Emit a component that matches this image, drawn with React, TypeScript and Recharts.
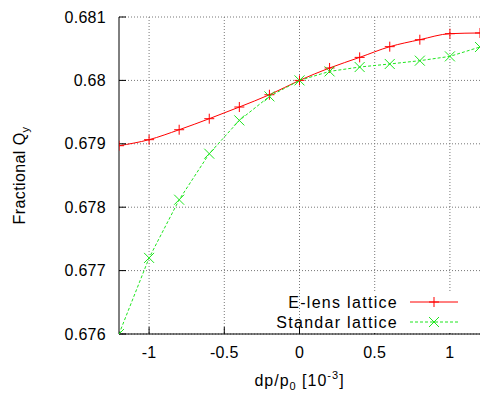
import React from "react";
import { CartesianGrid, Legend, Line, LineChart, XAxis, YAxis } from "recharts";

const dpValues = [-1.2, -1.0, -0.8, -0.6, -0.4, -0.2, 0, 0.2, 0.4, 0.6, 0.8, 1.0, 1.2];
const elensQy = [0.67897, 0.679065, 0.679222, 0.679396, 0.67958, 0.679774, 0.68, 0.680196, 0.680363, 0.680532, 0.680642, 0.680737, 0.680748];
const standarQy = [0.676, 0.6772, 0.678118, 0.678844, 0.679369, 0.679748, 0.68, 0.680142, 0.680211, 0.680259, 0.680311, 0.680379, 0.680527];
const xDomain = [-1.2, 1.2];
const yDomain = [0.676, 0.681];
const xTicks = [-1, -0.5, 0, 0.5, 1];
const yTicks = [0.676, 0.677, 0.678, 0.679, 0.68, 0.681];

const data = dpValues.map((dp, i) => ({ dp, elens: elensQy[i], standar: standarQy[i] }));

const FONT = "'Liberation Sans', Arial, Helvetica, sans-serif";
const RED = "#ff0000";
const GREEN = "#1ee61e";

const PlusDot = (p: any) => {
  if (p.cx == null || p.cy == null) return <g key={p.key} />;
  return <path key={p.key} d={`M${p.cx - 5},${p.cy}h10M${p.cx},${p.cy - 5}v10`} stroke={RED} strokeWidth={1} fill="none" />;
};
const CrossDot = (p: any) => {
  if (p.cx == null || p.cy == null) return <g key={p.key} />;
  return <path key={p.key} d={`M${p.cx - 5},${p.cy - 5}l10,10M${p.cx - 5},${p.cy + 5}l10,-10`} stroke={GREEN} strokeWidth={1} fill="none" />;
};

// grid at the tick values, mapped through the plot area
const gridX = ({ offset }: any) =>
  xTicks.map((t) => offset.left + ((t - xDomain[0]) / (xDomain[1] - xDomain[0])) * offset.width);
const gridY = ({ offset }: any) =>
  yTicks.map((t) => offset.top + ((yDomain[1] - t) / (yDomain[1] - yDomain[0])) * offset.height);

// legend box sits at left 200, top 290 in chart pixels; white key area hides the grid behind it
const LegendBox = () => (
  <svg width={270} height={44} style={{ display: "block", fontFamily: FONT }}>
    <rect x={102} y={3} width={177} height={40} fill="#fff" />
    <text x={198} y={18} textAnchor="end" fontSize={16} letterSpacing={1.3} fill="#000">E-lens lattice</text>
    <line x1={210} x2={258} y1={12} y2={12} stroke={RED} />
    <path d="M229,12h10M234,7v10" stroke={RED} />
    <text x={198} y={38} textAnchor="end" fontSize={16} letterSpacing={1.3} fill="#000">Standar lattice</text>
    <line x1={210} x2={258} y1={32} y2={32} stroke={GREEN} strokeDasharray="3 2" />
    <path d="M229,27l10,10M229,37l10,-10" stroke={GREEN} />
  </svg>
);

const YLabel = (props: any) => {
  const vb = props.viewBox;
  const cx = 25;
  const cy = vb.y + vb.height / 2;
  return (
    <text transform={`translate(${cx},${cy}) rotate(-90)`} textAnchor="middle" fontSize={16} fontFamily={FONT} letterSpacing={0.4} fill="#000">
      Fractional Q<tspan fontSize={11} dy={4}>y</tspan>
    </text>
  );
};

const XLabel = (props: any) => {
  const vb = props.viewBox;
  const cx = vb.x + vb.width / 2;
  return (
    <text x={cx} y={386} textAnchor="middle" fontSize={16} fontFamily={FONT} letterSpacing={1} fill="#000">
      dp/p<tspan fontSize={11} dy={4}>0</tspan>
      <tspan dy={-4}> [10</tspan>
      <tspan fontSize={11} dy={-7}>-3</tspan>
      <tspan dy={7}>]</tspan>
    </text>
  );
};

const tickStyle = { fontSize: 16, fontFamily: FONT, fill: "#000", letterSpacing: 0.3 };
const tickLineStyle = { stroke: "#000", strokeWidth: 1 };

export default function App() {
  return (
    <div style={{ position: "absolute", left: 0, top: 0, width: 486, height: 393, background: "#fff" }}>
      <LineChart width={486} height={393} data={data} margin={{ top: 17, right: 6, bottom: 0, left: 0 }}>
        <CartesianGrid
          xAxisId="b"
          yAxisId="l"
          stroke="#777"
          strokeDasharray="1 2"
          verticalCoordinatesGenerator={gridX}
          horizontalCoordinatesGenerator={gridY}
        />
        <XAxis
          xAxisId="b"
          dataKey="dp"
          type="number"
          domain={xDomain}
          ticks={xTicks}
          height={59}
          tick={tickStyle}
          tickSize={-7}
          tickMargin={20}
          stroke="#000"
          tickLine={tickLineStyle}
          allowDataOverflow
          label={<XLabel />}
        />
        <XAxis
          xAxisId="t"
          orientation="top"
          dataKey="dp"
          type="number"
          domain={xDomain}
          ticks={xTicks}
          height={0}
          tick={() => <g />}
          tickSize={-7}
          stroke="#000"
          tickLine={tickLineStyle}
          allowDataOverflow
        />
        <YAxis
          yAxisId="l"
          type="number"
          domain={yDomain}
          ticks={yTicks}
          width={119}
          tick={tickStyle}
          tickSize={-7}
          tickMargin={20}
          stroke="#000"
          tickLine={tickLineStyle}
          tickFormatter={(v: number) => String(v)}
          allowDataOverflow
          label={<YLabel />}
        />
        <YAxis
          yAxisId="r"
          orientation="right"
          type="number"
          domain={yDomain}
          ticks={yTicks}
          width={0}
          tick={() => <g />}
          tickSize={-7}
          stroke="#000"
          tickLine={tickLineStyle}
          allowDataOverflow
        />
        <Legend
          layout="vertical"
          align="center"
          verticalAlign="middle"
          content={() => <LegendBox />}
          wrapperStyle={{ position: "absolute", left: 200, top: 290, width: 270 }}
        />
        <Line
          xAxisId="b"
          yAxisId="l"
          type="monotone"
          dataKey="elens"
          name="E-lens lattice"
          stroke={RED}
          strokeWidth={1}
          dot={<PlusDot />}
          activeDot={false}
          isAnimationActive={false}
        />
        <Line
          xAxisId="b"
          yAxisId="l"
          type="linear"
          dataKey="standar"
          name="Standar lattice"
          stroke={GREEN}
          strokeWidth={1}
          strokeDasharray="3 2"
          dot={<CrossDot />}
          activeDot={false}
          isAnimationActive={false}
        />
      </LineChart>
    </div>
  );
}
